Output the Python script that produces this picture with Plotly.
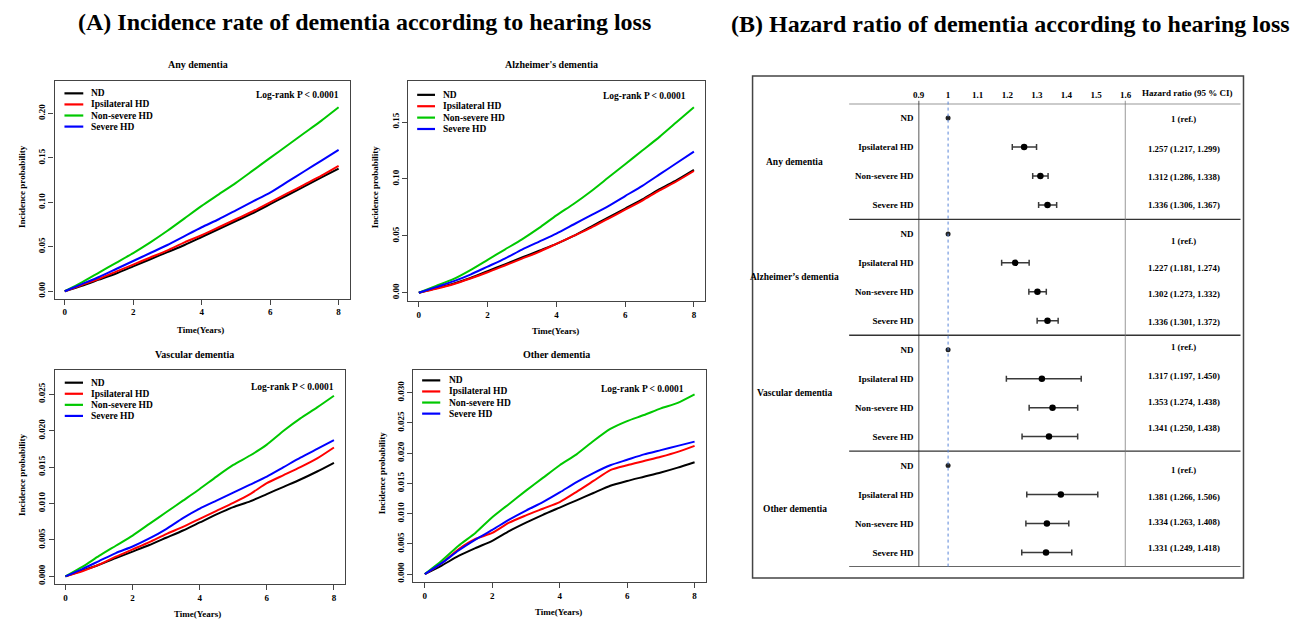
import plotly.graph_objects as go

W, H = 1302, 620

# ---------------- data ----------------
years = [0, 0.5, 1, 1.5, 2, 2.5, 3, 3.5, 4, 4.5, 5, 5.5, 6, 6.5, 7, 7.5, 8]
groups = ["ND", "Ipsilateral HD", "Non-severe HD", "Severe HD"]
colors = ["#000000", "#FF0000", "#00C800", "#0000FF"]

any_nd = [0, 0.006, 0.013, 0.020, 0.028, 0.036, 0.044, 0.052, 0.061, 0.070, 0.079, 0.088, 0.098, 0.108, 0.118, 0.128, 0.138]
any_ipsi = [0, 0.007, 0.014, 0.022, 0.030, 0.038, 0.046, 0.055, 0.063, 0.072, 0.081, 0.090, 0.100, 0.110, 0.120, 0.130, 0.141]
any_nonsev = [0, 0.010, 0.021, 0.032, 0.043, 0.055, 0.068, 0.082, 0.096, 0.109, 0.122, 0.136, 0.150, 0.164, 0.178, 0.192, 0.207]
any_severe = [0, 0.008, 0.016, 0.025, 0.034, 0.043, 0.052, 0.062, 0.072, 0.081, 0.091, 0.101, 0.111, 0.123, 0.135, 0.147, 0.159]

alz_nd = [0, 0.004, 0.008, 0.013, 0.019, 0.025, 0.031, 0.037, 0.043, 0.050, 0.058, 0.066, 0.074, 0.082, 0.091, 0.099, 0.108]
alz_ipsi = [0, 0.0035, 0.0075, 0.0125, 0.018, 0.024, 0.030, 0.036, 0.043, 0.050, 0.057, 0.065, 0.073, 0.081, 0.090, 0.098, 0.107]
alz_nonsev = [0, 0.006, 0.012, 0.020, 0.029, 0.038, 0.047, 0.057, 0.068, 0.078, 0.089, 0.101, 0.113, 0.125, 0.137, 0.150, 0.163]
alz_severe = [0, 0.005, 0.010, 0.016, 0.023, 0.030, 0.038, 0.045, 0.052, 0.060, 0.068, 0.076, 0.085, 0.094, 0.104, 0.114, 0.124]

vas_nd = [0, 0.0008, 0.0016, 0.0025, 0.0034, 0.0043, 0.0053, 0.0063, 0.0074, 0.0085, 0.0095, 0.0103, 0.0113, 0.0123, 0.0133, 0.0144, 0.0156]
vas_ipsi = [0, 0.0007, 0.0016, 0.0027, 0.0037, 0.0047, 0.0058, 0.0068, 0.0079, 0.0090, 0.0101, 0.0113, 0.0128, 0.0139, 0.0150, 0.0162, 0.0177]
vas_nonsev = [0, 0.0013, 0.0028, 0.0042, 0.0056, 0.0072, 0.0088, 0.0104, 0.0120, 0.0137, 0.0153, 0.0166, 0.0181, 0.0200, 0.0217, 0.0232, 0.0248]
vas_severe = [0, 0.0010, 0.0021, 0.0032, 0.0041, 0.0052, 0.0065, 0.0080, 0.0093, 0.0104, 0.0115, 0.0126, 0.0137, 0.0150, 0.0163, 0.0175, 0.0187]

oth_nd = [0, 0.0014, 0.0030, 0.0043, 0.0055, 0.0071, 0.0085, 0.0098, 0.0110, 0.0122, 0.0134, 0.0146, 0.0154, 0.0161, 0.0168, 0.0176, 0.0185]
oth_ipsi = [0, 0.0018, 0.0041, 0.0058, 0.0068, 0.0085, 0.0097, 0.0108, 0.0119, 0.0136, 0.0154, 0.0172, 0.0180, 0.0187, 0.0194, 0.0202, 0.0212]
oth_nonsev = [0, 0.0022, 0.0047, 0.0068, 0.0094, 0.0116, 0.0138, 0.0159, 0.0180, 0.0198, 0.0220, 0.0240, 0.0253, 0.0263, 0.0274, 0.0283, 0.0297]
oth_severe = [0, 0.0018, 0.0039, 0.0057, 0.0073, 0.0090, 0.0105, 0.0119, 0.0135, 0.0152, 0.0167, 0.0180, 0.0189, 0.0198, 0.0205, 0.0212, 0.0219]

km_titles = ["Any dementia", "Alzheimer's dementia", "Vascular dementia", "Other dementia"]
x_ticks = [0, 2, 4, 6, 8]
y_ticks_any = [0, 0.05, 0.10, 0.15, 0.20]
y_ticks_alz = [0, 0.05, 0.10, 0.15]
y_ticks_vas = [0, 0.005, 0.010, 0.015, 0.020, 0.025]
y_ticks_oth = [0, 0.005, 0.010, 0.015, 0.020, 0.025, 0.030]

# forest plot data
outcomes = ["Any dementia", "Alzheimer\u2019s dementia", "Vascular dementia", "Other dementia"]
hr_any = [1, 1.257, 1.312, 1.336]
lo_any = [1, 1.217, 1.286, 1.306]
hi_any = [1, 1.299, 1.338, 1.367]
hr_alz = [1, 1.227, 1.302, 1.336]
lo_alz = [1, 1.181, 1.273, 1.301]
hi_alz = [1, 1.274, 1.332, 1.372]
hr_vas = [1, 1.317, 1.353, 1.341]
lo_vas = [1, 1.197, 1.274, 1.250]
hi_vas = [1, 1.450, 1.438, 1.438]
hr_oth = [1, 1.381, 1.334, 1.331]
lo_oth = [1, 1.266, 1.263, 1.249]
hi_oth = [1, 1.506, 1.408, 1.418]
hr_ticks = [0.9, 1, 1.1, 1.2, 1.3, 1.4, 1.5, 1.6]
hr_tick_text = ["0.9", "1", "1.1", "1.2", "1.3", "1.4", "1.5", "1.6"]

# ---------------- helpers ----------------
FONT = "Liberation Serif, Times New Roman, serif"


def px(x):
    return x / W


def py(y):
    return 1 - y / H


def bold(size, color="black"):
    return dict(family=FONT, size=size, color=color, weight="bold")


def note(text, x, y, size, xanchor="center", yref="paper", yval=None, **kw):
    return dict(text=text, x=px(x), y=(py(y) if yval is None else yval),
                xref="paper", yref=yref, showarrow=False,
                xanchor=xanchor, yanchor="middle", font=bold(size), **kw)


fig = go.Figure()
annotations = []
shapes = []

km_series = [
    [any_nd, any_ipsi, any_nonsev, any_severe],
    [alz_nd, alz_ipsi, alz_nonsev, alz_severe],
    [vas_nd, vas_ipsi, vas_nonsev, vas_severe],
    [oth_nd, oth_ipsi, oth_nonsev, oth_severe],
]
km_yticks = [y_ticks_any, y_ticks_alz, y_ticks_vas, y_ticks_oth]
km_yfmt = ["%.2f", "%.2f", "%.3f", "%.3f"]

# layout geometry (pixels): box [x0,x1,y0,y1], x range, y range
km_geom = [
    dict(box=(49, 347, 81, 299), xr=(-0.298, 8.327), yr=(-0.0082, 0.2367),
         title=(193.5, 65), ytitle=(16.7, 186.7), xtitle=(196, 331),
         leg=(59, 78, 84, 93.5, 11.1), logrank=(337.7, 95.3)),
    dict(box=(406, 706, 81, 301.7), xr=(-0.308, 8.337), yr=(-0.0074, 0.1862),
         title=(550.8, 65), ytitle=(373.3, 186.7), xtitle=(554.5, 332),
         leg=(415, 433, 439.3, 95, 11.4), logrank=(688.3, 95.7)),
    dict(box=(49.3, 341.7, 370.7, 585), xr=(-0.316, 8.316), yr=(-0.00106, 0.02833),
         title=(190, 354.7), ytitle=(16, 475), xtitle=(193.7, 615),
         leg=(59.3, 77.7, 84, 383.3, 11.1), logrank=(333, 387.7)),
    dict(box=(411, 706.7, 370.7, 583.3), xr=(-0.344, 8.344), yr=(-0.00137, 0.03373),
         title=(555.3, 354.7), ytitle=(379.3, 473.3), xtitle=(557.3, 612.7),
         leg=(420, 438.3, 445, 381, 11.1), logrank=(686.7, 389.3)),
]

layout_axes = {}
for k in range(4):
    g = km_geom[k]
    n = "" if k == 0 else str(k + 1)
    x0, x1, y0, y1 = g["box"]
    for gi in range(4):
        fig.add_trace(go.Scatter(
            x=years, y=km_series[k][gi], mode="lines", name=groups[gi],
            line=dict(color=colors[gi], width=2, shape="spline", smoothing=0.6),
            showlegend=False, xaxis="x" + n, yaxis="y" + n,
        ))
    layout_axes["xaxis" + n] = dict(
        domain=[px(x0), px(x1)], range=list(g["xr"]), anchor="y" + n,
        tickvals=x_ticks, ticks="outside", ticklen=5, tickcolor="#444",
        showline=True, mirror=True, linecolor="#444", linewidth=1.2,
        showgrid=False, zeroline=False, tickfont=bold(9),
    )
    layout_axes["yaxis" + n] = dict(
        domain=[py(y1), py(y0)], range=list(g["yr"]), anchor="x" + n,
        tickvals=km_yticks[k], ticktext=[km_yfmt[k] % v for v in km_yticks[k]],
        ticks="outside", ticklen=5, tickcolor="#444", tickangle=-90,
        showline=True, mirror=True, linecolor="#444", linewidth=1.2,
        showgrid=False, zeroline=False, tickfont=bold(9),
    )
    annotations.append(note(km_titles[k], g["title"][0], g["title"][1], 10))
    annotations.append(note("Incidence probability", g["ytitle"][0], g["ytitle"][1], 9, textangle=-90))
    annotations.append(note("Time(Years)", g["xtitle"][0], g["xtitle"][1], 9))
    annotations.append(note("Log-rank P < 0.0001", g["logrank"][0], g["logrank"][1], 9.5, xanchor="right"))
    lx0, lx1, ltx, ly, dy = g["leg"]
    for gi in range(4):
        yy = ly + gi * dy
        shapes.append(dict(type="line", xref="paper", yref="paper", x0=px(lx0), x1=px(lx1),
                           y0=py(yy), y1=py(yy), line=dict(color=colors[gi], width=2.2)))
        annotations.append(note(groups[gi], ltx, yy, 9.5, xanchor="left"))

# ---------------- forest plot ----------------
hr_all = [hr_any, hr_alz, hr_vas, hr_oth]
lo_all = [lo_any, lo_alz, lo_vas, lo_oth]
hi_all = [hi_any, hi_alz, hi_vas, hi_oth]
text_dy = [[0.02, 0.06, 0.02, 0.01], [0.23, 0.16, 0.09, 0.03],
           [-0.08, -0.11, -0.21, -0.31], [0.16, 0.09, -0.06, -0.15]]

ref_x, ref_y, pt_x, pt_y, e_plus, e_minus = [], [], [], [], [], []
row_labels = []
for oi in range(4):
    for gi in range(4):
        row = oi * 4 + gi
        row_labels.append(groups[gi])
        h, lo, hi = hr_all[oi][gi], lo_all[oi][gi], hi_all[oi][gi]
        if gi == 0:
            ref_x.append(h)
            ref_y.append(row)
            label = "1 (ref.)"
        else:
            pt_x.append(h)
            pt_y.append(row)
            e_plus.append(hi - h)
            e_minus.append(h - lo)
            label = f"{h:.3f} ({lo:.3f}, {hi:.3f})"
        annotations.append(note(label, 1188.5, 0, 8.8, yref="y5", yval=row + text_dy[oi][gi]))
    annotations.append(note(outcomes[oi], 796, 0, 9.5, yref="y5", yval=oi * 4 + 1.5))

fig.add_trace(go.Scatter(
    x=ref_x, y=ref_y, mode="markers", name="Reference", showlegend=False,
    marker=dict(color="#222", size=5), xaxis="x5", yaxis="y5"))
fig.add_trace(go.Scatter(
    x=pt_x, y=pt_y, mode="markers", name="Hazard ratio", showlegend=False,
    marker=dict(color="black", size=6.5),
    error_x=dict(type="data", symmetric=False, array=e_plus, arrayminus=e_minus,
                 color="#3a3a3a", thickness=1.5, width=3),
    xaxis="x5", yaxis="y5"))

layout_axes["xaxis5"] = dict(
    domain=[px(921), px(1130)], range=[0.9, 1.6], anchor="y5", side="top",
    tickvals=hr_ticks, ticktext=hr_tick_text, ticks="", ticklabelstandoff=3,
    showline=False, showgrid=False, zeroline=False, tickfont=bold(9),
)
layout_axes["yaxis5"] = dict(
    domain=[py(567.8), py(103.8)], range=[15.5, -0.5], anchor="x5",
    tickvals=list(range(16)), ticktext=row_labels, ticks="", ticklabelstandoff=4,
    showline=False, showgrid=False, zeroline=False, tickfont=bold(9),
)

# forest plot frame lines
shapes.append(dict(type="rect", xref="paper", yref="paper", x0=px(753.5), x1=px(1249),
                   y0=py(579), y1=py(76), line=dict(color="#444", width=1.5)))
for yb in [-0.5, 3.5, 7.5, 11.5, 15.5]:
    shapes.append(dict(type="line", xref="paper", yref="y5", x0=px(851), x1=px(1246),
                       y0=yb, y1=yb, line=dict(color="#333", width=1.3)))
shapes.append(dict(type="line", xref="x5", yref="paper", x0=0.9, x1=0.9,
                   y0=py(567.5), y1=py(101), line=dict(color="#222", width=1.5)))
shapes.append(dict(type="line", xref="x5", yref="paper", x0=1.6, x1=1.6,
                   y0=py(567.5), y1=py(101), line=dict(color="#777", width=1.5)))
shapes.append(dict(type="line", xref="x5", yref="paper", x0=1, x1=1,
                   y0=py(567.5), y1=py(100), line=dict(color="#5a86d8", width=1, dash="dot")))
annotations.append(note("Hazard ratio (95 % CI)", 1191.7, 93.3, 9))

# main titles
annotations.append(note("(A) Incidence rate of dementia according to hearing loss", 362, 22, 24))
annotations.append(note("(B) Hazard ratio of dementia according to hearing loss", 1014, 24, 24))

fig.update_layout(
    width=W, height=H, autosize=False,
    margin=dict(l=0, r=0, t=0, b=0),
    paper_bgcolor="white", plot_bgcolor="white",
    font=dict(family=FONT, color="black", weight="bold"),
    showlegend=False,
    annotations=annotations, shapes=shapes,
    **layout_axes,
)

fig.write_html("out.html", config={"displayModeBar": False},
               post_script="document.body.style.margin='0';document.body.style.overflow='hidden';")
